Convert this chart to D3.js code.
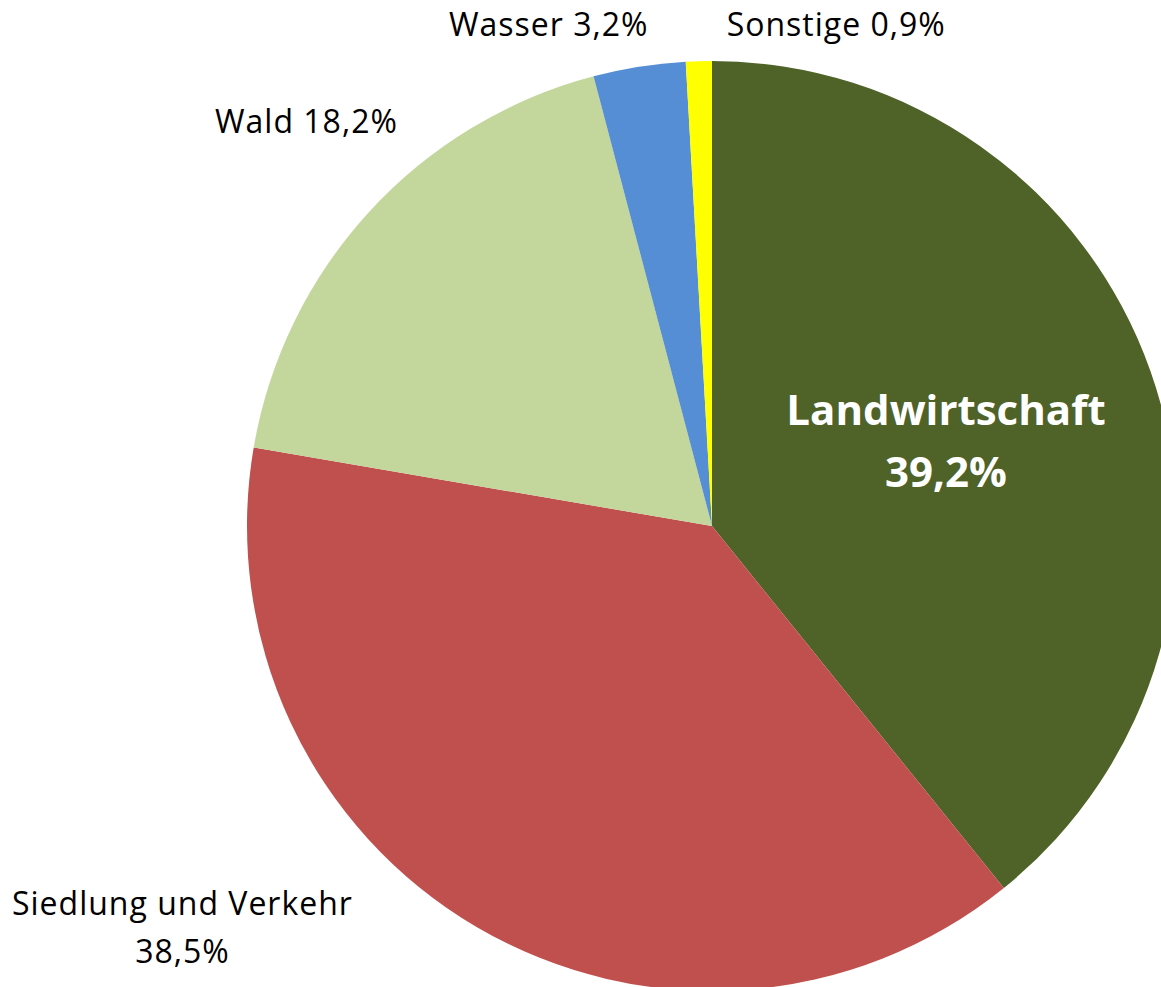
<!DOCTYPE html>
<html>
<head>
<meta charset="utf-8">
<script src="https://cdn.jsdelivr.net/npm/d3@7"></script>
<style>
  body { margin: 0; background: #fff; }
  svg { display: block; }
  text { font-family: "Open Sans", sans-serif; }
</style>
</head>
<body>
<svg id="chart" width="1161" height="987"></svg>
<script>
// data
const categories = ["Landwirtschaft", "Siedlung und Verkehr", "Wald", "Wasser", "Sonstige"];
const shares = [39.2, 38.5, 18.2, 3.2, 0.9];
const colors = ["#4f6228", "#c0504d", "#c3d69b", "#558ed5", "#ffff00"];

const width = 1161;
const height = 987;
const cx = 712;
const cy = 526;
const radius = 465;

const svg = d3.select("#chart");
const g = svg.append("g").attr("transform", `translate(${cx},${cy})`);

const fmt = v => v.toFixed(1).replace(".", ",") + "%";

const pie = d3.pie().sort(null).value(d => d.value);
const arcs = pie(categories.map((c, i) => ({ name: c, value: shares[i], color: colors[i] })));

const arc = d3.arc().innerRadius(0).outerRadius(radius);

g.selectAll("path")
    .data(arcs)
    .join("path")
    .attr("d", arc)
    .attr("fill", d => d.data.color);

// labels: inside for the biggest slice, outside for the rest (nudged like excel does)
const innerArc = d3.arc().innerRadius(radius * 0.52).outerRadius(radius * 0.52);
const outerArc = d3.arc().innerRadius(radius * 1.2).outerRadius(radius * 1.2);
const nudge = {
    "Landwirtschaft": [6, 11],
    "Siedlung und Verkehr": [-247, -72],
    "Wald": [6, -27],
    "Wasser": [-76, 50],
    "Sonstige": [140, 57],
};

const labels = g.selectAll("g.label")
    .data(arcs)
    .join("g")
    .attr("class", "label")
    .attr("transform", d => {
        const [x, y] = (d.index === 0 ? innerArc : outerArc).centroid(d);
        const [nx, ny] = nudge[d.data.name];
        return `translate(${x + nx},${y + ny})`;
    });

labels.each(function(d) {
    const lab = d3.select(this);
    if (d.index === 0) {
        const t = lab.append("text")
            .attr("text-anchor", "middle")
            .attr("fill", "#fff")
            .attr("font-weight", "bold")
            .attr("font-size", 42);
        t.append("tspan").attr("x", 0).attr("y", -32).text(d.data.name);
        t.append("tspan").attr("x", 0).attr("y", 30).text(fmt(d.data.value));
    } else if (d.data.name === "Siedlung und Verkehr") {
        const t = lab.append("text")
            .attr("text-anchor", "middle")
            .attr("fill", "#000")
            .attr("font-size", 32)
            .attr("letter-spacing", 1);
        t.append("tspan").attr("x", 0).attr("y", -20).text(d.data.name);
        t.append("tspan").attr("x", 0).attr("y", 28).text(fmt(d.data.value));
    } else {
        lab.append("text")
            .attr("text-anchor", "middle")
            .attr("fill", "#000")
            .attr("font-size", 32)
            .attr("letter-spacing", 1)
            .attr("y", 11)
            .text(`${d.data.name} ${fmt(d.data.value)}`);
    }
});
</script>
</body>
</html>
